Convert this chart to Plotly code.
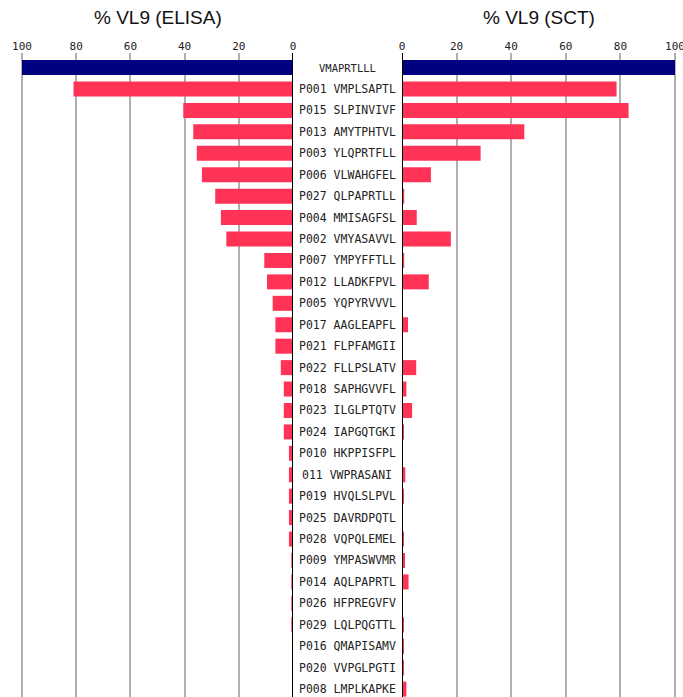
import plotly.graph_objects as go

# Peptides, top to bottom
peptides = [
    "VMAPRTLLL", "P001 VMPLSAPTL", "P015 SLPINVIVF", "P013 AMYTPHTVL",
    "P003 YLQPRTFLL", "P006 VLWAHGFEL", "P027 QLPAPRTLL", "P004 MMISAGFSL",
    "P002 VMYASAVVL", "P007 YMPYFFTLL", "P012 LLADKFPVL", "P005 YQPYRVVVL",
    "P017 AAGLEAPFL", "P021 FLPFAMGII", "P022 FLLPSLATV", "P018 SAPHGVVFL",
    "P023 ILGLPTQTV", "P024 IAPGQTGKI", "P010 HKPPISFPL", "011 VWPRASANI",
    "P019 HVQLSLPVL", "P025 DAVRDPQTL", "P028 VQPQLEMEL", "P009 YMPASWVMR",
    "P014 AQLPAPRTL", "P026 HFPREGVFV", "P029 LQLPQGTTL", "P016 QMAPISAMV",
    "P020 VVPGLPGTI", "P008 LMPLKAPKE",
]

# % VL9 measured by ELISA
elisa = [
    100, 81, 40.5, 36.8, 35.5, 33.6, 28.7, 26.6,
    24.6, 10.6, 9.6, 7.5, 6.5, 6.5, 4.5, 3.4,
    3.4, 3.4, 1.5, 1.5, 1.5, 1.5, 1.5, 0.5,
    0.5, 0.5, 0.5, 0, 0, 0,
]

# % VL9 measured by SCT
sct = [
    100, 78.6, 83.0, 44.8, 28.8, 10.6, 0.8, 5.4,
    17.9, 0.8, 9.8, 0, 2.2, 0.2, 5.2, 1.6,
    3.7, 0.7, 0.2, 1.2, 0.6, 0.2, 0.6, 1.1,
    2.4, 0.2, 0.6, 0.6, 0.6, 1.6,
]

ticks = [0, 20, 40, 60, 80, 100]

NAVY = "#000080"
RED = "#ff3355"
colors = [NAVY] + [RED] * (len(peptides) - 1)

W, H = 683, 697
TOP = 53
XMAX = 101  # a little headroom so the 100 gridline is drawn
# left panel: 0 at 293 px, 100 at 22 px; right panel: 0 at 402 px, 100 at 675 px
lpx = (293 - 22) / 100
rpx = (675 - 402) / 100
left_dom = [(293 - XMAX * lpx) / W, 293 / W]
right_dom = [402 / W, (402 + XMAX * rpx) / W]
mid_x = (293 + 402) / 2 / W

fig = go.Figure()
fig.add_trace(go.Bar(
    x=elisa, y=peptides, orientation="h", xaxis="x", yaxis="y",
    marker=dict(color=colors, line=dict(width=0)), showlegend=False,
))
fig.add_trace(go.Bar(
    x=sct, y=peptides, orientation="h", xaxis="x2", yaxis="y",
    marker=dict(color=colors, line=dict(width=0)), showlegend=False,
))

axis_common = dict(
    side="top", tickvals=ticks, ticktext=[str(t) for t in ticks],
    showgrid=True, gridcolor="#b0b0b0", gridwidth=2,
    zeroline=False, showline=False, ticks="", automargin=False,
    ticklabeloverflow="allow",
    tickfont=dict(family="DejaVu Sans Mono", size=11, color="#222"),
    fixedrange=True,
)

fig.update_layout(
    width=W, height=H,
    margin=dict(l=0, r=0, t=TOP, b=0, autoexpand=False),
    paper_bgcolor="white", plot_bgcolor="white",
    bargap=0.3,
    xaxis=dict(domain=left_dom, range=[XMAX, 0], anchor="y", **axis_common),
    xaxis2=dict(domain=right_dom, range=[0, XMAX], anchor="y", **axis_common),
    yaxis=dict(range=[29.37, -0.68], showticklabels=False, showgrid=False,
               zeroline=False, ticks="", fixedrange=True, automargin=False),
)

# Black baselines at 0 on both panels
for xr in ("x", "x2"):
    fig.add_shape(type="line", xref=xr, yref="paper", x0=0, x1=0, y0=0, y1=1,
                  line=dict(color="black", width=2))

# Peptide labels in the central column
for i, name in enumerate(peptides):
    fig.add_annotation(
        x=mid_x, xref="paper", y=name, yref="y", text=name, showarrow=False,
        xanchor="center", yanchor="middle",
        font=dict(family="DejaVu Sans Mono", size=10.5 if i == 0 else 11.5,
                  color="#222"),
    )

# Panel titles, centred over each panel about 18 px from the top
title_y = 1 + (TOP - 18) / (H - TOP)
for cx, title in ((157.5, "% VL9 (ELISA)"), (538.5, "% VL9 (SCT)")):
    fig.add_annotation(
        x=cx / W, xref="paper", y=title_y, yref="paper",
        text=title, showarrow=False, xanchor="center", yanchor="middle",
        font=dict(family="Liberation Sans, Arial", size=19, color="#111"),
    )

fig.write_html("out.html")
